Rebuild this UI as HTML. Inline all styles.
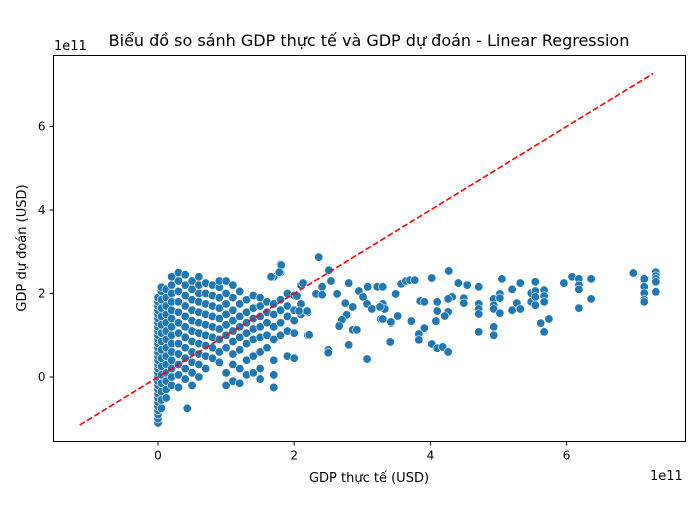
<!DOCTYPE html>
<html><head><meta charset="utf-8"><style>
body{margin:0;background:#fff;font-family:"Liberation Sans","DejaVu Sans",sans-serif}
svg text{font-family:"DejaVu Sans","Liberation Sans",sans-serif;fill:#000}
</style></head><body>
<svg id="chart" width="700" height="500" viewBox="0 0 700 500" xmlns="http://www.w3.org/2000/svg">
<rect width="700" height="500" fill="#fff"/>
<text x="369" y="46" font-size="16" text-anchor="middle">Biểu đồ so sánh GDP thực tế và GDP dự đoán - Linear Regression</text>
<g id="plot"></g>
<rect x="53.5" y="55.5" width="632" height="386" fill="none" stroke="#000" stroke-width="1"/>
<g id="xt"></g>
<g id="yt"></g>
<text x="369" y="482" font-size="13" text-anchor="middle">GDP thực tế (USD)</text>
<text transform="translate(26,248) rotate(-90)" font-size="13" text-anchor="middle">GDP dự đoán (USD)</text>
<text x="54" y="50" font-size="13">1e11</text>
<text x="650" y="480" font-size="13">1e11</text>
</svg>
<script>
const xTicks=[0,2,4,6];
const yTicks=[0,2,4,6];
const lineX=[-1.15,7.27];
const lineY=[-1.15,7.27];
const colX=[0,0.05,0.12,0.2,0.3,0.4,0.5,0.6,0.7,0.8,0.9,1.0,1.1,1.2,1.3,1.4,1.5,1.6,1.7,1.8,1.9,2.0,2.1,2.2];
const colY=[
[-1.1,-1.0,-0.9,-0.8,-0.7,-0.6,-0.5,-0.4,-0.3,-0.2,-0.1,0,0.1,0.2,0.3,0.4,0.5,0.6,0.7,0.8,0.9,1.0,1.1,1.2,1.3,1.4,1.5,1.6,1.7,1.8,1.9],
[-0.75,-0.55,-0.35,-0.15,0.05,0.25,0.45,0.65,0.85,1.05,1.25,1.45,1.65,1.85,2.05,2.15],
[-0.5,-0.3,-0.1,0.1,0.3,0.5,0.7,0.9,1.1,1.3,1.5,1.7,1.9,2.1],
[-0.2,0,0.2,0.4,0.6,0.8,1.0,1.2,1.4,1.6,1.8,2.0,2.2,2.4],
[-0.25,0.05,0.3,0.55,0.8,1.05,1.3,1.55,1.8,2.05,2.3,2.5],
[-0.05,0.2,0.45,0.7,0.95,1.2,1.45,1.7,1.95,2.2,2.45],
[-0.2,0.1,0.35,0.6,0.85,1.1,1.35,1.6,1.85,2.1,2.3],
[0.0,0.3,0.55,0.8,1.05,1.3,1.55,1.8,2.0,2.2,2.4],
[0.2,0.5,0.75,1.0,1.25,1.5,1.75,2.0,2.25],
[0.45,0.7,0.95,1.2,1.45,1.7,1.95,2.2],
[0.35,0.6,0.9,1.15,1.4,1.65,1.9,2.15,2.3],
[-0.2,0.1,0.7,1.0,1.25,1.5,1.75,2.0,2.3],
[-0.1,0.3,0.55,0.85,1.1,1.35,1.6,1.9,2.2],
[-0.15,0.2,0.65,0.95,1.2,1.45,1.75,2.05],
[0.05,0.4,0.8,1.05,1.3,1.55,1.85],
[0.1,0.5,0.9,1.15,1.4,1.65,1.95],
[-0.05,0.2,0.6,0.95,1.2,1.45,1.7,1.9],
[0.7,1.0,1.3,1.55,1.8],
[-0.25,0.05,0.4,0.9,1.2,1.5,1.75,2.4],
[1.0,1.3,1.6,1.85,2.5,2.7],
[0.5,1.1,1.45,1.7,2.0],
[0.45,1.05,1.35,1.6,1.95],
[1.5,1.75,2.2],
[1.0,1.55]];
const extraX=[0.43,2.36,1.81,1.78,1.66,2.51,2.54,2.80,3.08,3.22,2.95,2.41,2.32,2.41,2.63,2.75,2.86,3.01,3.07,3.30,3.33,3.14,3.27,3.42,2.77,2.70,2.66,2.86,2.92,2.80,2.50,2.50,3.07,3.41,2.22,2.13,2.04,2.19,2.07,
3.26,3.30,3.30,3.52,3.42,3.49,3.57,3.64,3.70,3.77,3.72,3.41,3.85,3.91,4.02,3.91,3.83,3.83,4.02,4.10,4.18,4.26,4.27,4.41,4.54,4.32,4.26,4.26,4.21,4.10,4.10,4.08,4.49,4.49,
4.71,4.71,4.71,4.71,4.71,4.93,4.93,4.93,4.93,4.93,5.02,5.02,5.02,5.05,5.20,5.20,5.27,5.32,5.32,5.48,5.48,5.54,5.54,5.54,5.54,5.67,5.67,5.67,5.62,5.67,5.74,5.96,6.08,6.18,6.18,6.18,6.18,6.36,6.36,6.98,7.14,7.14,7.14,7.14,7.14,7.31,7.31,7.31,7.31,7.31];
const extraY=[-0.75,2.87,2.68,2.51,2.40,2.56,2.30,2.25,2.16,2.16,2.06,2.16,1.99,1.97,1.99,1.77,1.68,1.92,1.75,1.75,1.63,1.63,1.39,1.29,1.49,1.37,1.22,1.13,1.13,0.77,0.65,0.58,0.43,0.84,1.01,2.25,1.94,1.58,1.58,
1.68,1.39,2.16,1.46,1.32,1.99,2.23,2.30,2.32,2.32,1.34,0.84,1.82,1.80,2.37,1.17,1.03,0.89,0.79,0.69,0.72,0.60,2.54,2.25,2.20,1.92,1.87,1.56,1.46,1.80,1.58,1.34,1.89,1.77,
2.16,1.75,1.63,1.51,1.08,1.87,1.72,1.63,1.20,1.00,1.99,1.89,1.53,2.35,2.10,1.60,1.77,2.25,1.63,2.01,1.80,2.28,2.06,1.92,1.72,2.08,1.94,1.80,1.29,1.08,1.39,2.25,2.40,2.35,2.20,2.10,1.65,2.35,1.87,2.49,2.35,2.16,2.01,1.85,1.80,2.51,2.42,2.35,2.28,2.04];
const NS='http://www.w3.org/2000/svg';
const L=53.5,R=685.5,T=55.5,B=441.5;
function sx(v){return 158+v*68.1;}
function sy(v){return 377-v*41.75;}
const plot=document.getElementById('plot');
function pt(x,y){const c=document.createElementNS(NS,'circle');


c.setAttribute('cx',sx(x));c.setAttribute('cy',sy(y));c.setAttribute('r',4.2);
c.setAttribute('fill','#1f77b4');c.setAttribute('stroke','#fff');c.setAttribute('stroke-width',0.6);plot.appendChild(c);}
colX.forEach((x,i)=>colY[i].forEach(y=>pt(x,y)));
extraX.forEach((x,i)=>pt(x,extraY[i]));
const ln=document.createElementNS(NS,'line');


ln.setAttribute('x1',sx(lineX[0]));ln.setAttribute('y1',sy(lineY[0]));ln.setAttribute('x2',sx(lineX[1]));ln.setAttribute('y2',sy(lineY[1]));
ln.setAttribute('stroke','#ff0000');ln.setAttribute('stroke-width',1.6);ln.setAttribute('stroke-dasharray','6,2.6');plot.appendChild(ln);
const xt=document.getElementById('xt'),yt=document.getElementById('yt');
xTicks.forEach(v=>{const l=document.createElementNS(NS,'line');


l.setAttribute('x1',sx(v));l.setAttribute('x2',sx(v));l.setAttribute('y1',B);l.setAttribute('y2',B+4);l.setAttribute('stroke','#000');xt.appendChild(l);
const t=document.createElementNS(NS,'text');


t.setAttribute('x',sx(v));t.setAttribute('y',B+18);t.setAttribute('font-size','12');t.setAttribute('text-anchor','middle');t.textContent=v;xt.appendChild(t);});
yTicks.forEach(v=>{const l=document.createElementNS(NS,'line');


l.setAttribute('x1',L-4);l.setAttribute('x2',L);l.setAttribute('y1',sy(v));l.setAttribute('y2',sy(v));l.setAttribute('stroke','#000');yt.appendChild(l);
const t=document.createElementNS(NS,'text');


t.setAttribute('x',L-8);t.setAttribute('y',sy(v)+4);t.setAttribute('font-size','12');t.setAttribute('text-anchor','end');t.textContent=v;yt.appendChild(t);});
</script>
</body></html>
